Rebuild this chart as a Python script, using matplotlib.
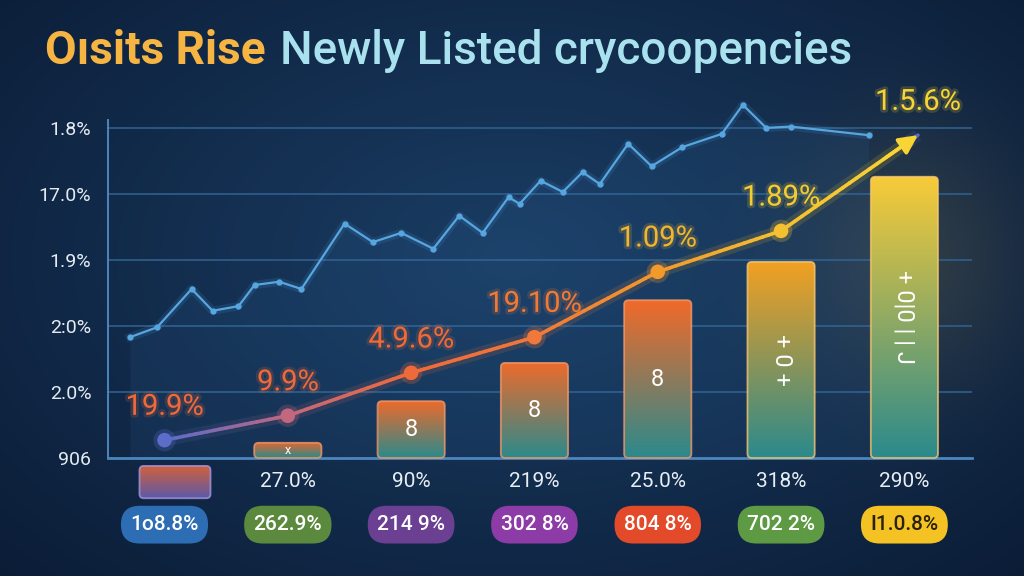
import numpy as np
import matplotlib.pyplot as plt
from matplotlib.colors import LinearSegmentedColormap, to_rgb
from matplotlib.collections import LineCollection
from matplotlib.patches import FancyBboxPatch
import matplotlib.patheffects as pe

plt.rcParams['font.family'] = ['Roboto', 'DejaVu Sans']

# ---- data ----
ytick_labels = ['906', '2.0%', '2:0%', '1.9%', '17.0%', '1.8%']
x_labels = ['', '27.0%', '90%', '219%', '25.0%', '318%', '290%']
bar_values = [0, 0.23, 0.86, 1.44, 2.39, 2.97, 4.26]
bar_marks = ['', 'x', '8', '8', '8', '+ 0 +', '+ 0|0 | | J']
line_values = [0.27, 0.64, 1.29, 1.83, 2.82, 3.44]
arrow_value = 4.89
point_labels = ['19.9%', '9.9%', '4.9.6%', '19.10%', '1.09%', '1.89%', '1.5.6%']
pill_labels = ['1o8.8%', '262.9%', '214 9%', '302 8%', '804 8%', '702 2%', 'I1.0.8%']
pill_colors = ['#2d6db3', '#5b8a3e', '#6b3f92', '#8d3ba6', '#e24a2a', '#5d9a43', '#f5c224']
trend_x = [-0.28, -0.06, 0.22, 0.39, 0.60, 0.73, 0.93, 1.11, 1.46, 1.69, 1.92, 2.18,
           2.39, 2.58, 2.79, 2.88, 3.05, 3.23, 3.39, 3.53, 3.76, 3.95, 4.20, 4.52,
           4.69, 4.88, 5.08, 5.71]
trend_y = [1.83, 1.98, 2.56, 2.23, 2.30, 2.62, 2.67, 2.56, 3.55, 3.27, 3.41, 3.17,
           3.67, 3.41, 3.95, 3.85, 4.20, 4.03, 4.33, 4.15, 4.76, 4.42, 4.71, 4.91,
           5.35, 5.00, 5.02, 4.89]

bar_tops = ['#d9663c', '#e4662e', '#ec6a2c', '#ee6b2b', '#f06a2a', '#f2a022', '#f8cb38']
bar_bottom = '#2b8a8c'
line_cmap = LinearSegmentedColormap.from_list('ln', [
    (0.0, '#5b6cc9'), (0.17, '#c4687c'), (0.33, '#ee6a3a'), (0.5, '#f0783a'),
    (0.67, '#f29a2c'), (0.83, '#f5c030'), (1.0, '#f8d434')])

fig = plt.figure(figsize=(10.24, 5.76), dpi=100)

# background
bg = fig.add_axes([0, 0, 1, 1])
H, W = 576, 1024
yy, xx = np.mgrid[0:1:H * 1j, 0:1:W * 1j]
t = np.clip(np.sqrt(((xx - 0.5) / 0.75) ** 2 + ((yy - 0.45) / 0.85) ** 2), 0, 1)
c0, c1 = np.array(to_rgb('#1a3d64')), np.array(to_rgb('#0a1a33'))
img = c0 * (1 - t[..., None]) + c1 * t[..., None]
glow = np.exp(-((xx - 0.89) ** 2 / 0.012 + (yy - 0.45) ** 2 / 0.05)) * 0.16
img = img * (1 - glow[..., None]) + np.array(to_rgb('#c89a38')) * glow[..., None]
bg.imshow(img, extent=[0, 1, 0, 1], aspect='auto')
bg.axis('off')

fig.text(45 / 1024, 1 - 64 / 576, 'Oısits Rise', fontsize=33, color='#f6b443',
         fontweight='bold', va='baseline')
fig.text(280 / 1024, 1 - 64 / 576, 'Newly Listed crycoopencies', fontsize=33,
         color='#a9e2ee', fontweight='medium', va='baseline')

ax = fig.add_axes([0.1055, 0.2049, 0.8438, 0.5868])
ax.patch.set_alpha(0)
ax.set_xlim(-0.458, 6.549)
ax.set_ylim(0, 5.12)
for s in ['top', 'right']:
    ax.spines[s].set_visible(False)
ax.spines['left'].set_color('#4d86bd')
ax.spines['left'].set_linewidth(1.4)
ax.spines['bottom'].set_color('#4d86bd')
ax.spines['bottom'].set_linewidth(2)
ax.set_xticks([])
ax.set_yticks(range(len(ytick_labels)))
ax.set_yticklabels(ytick_labels, color='#e4ebf2', fontsize=14)
ax.tick_params(axis='y', length=0, pad=12)
for yv in range(1, len(ytick_labels)):
    ax.axhline(yv, color='#2f5f8c', lw=1.2, zorder=1)

# background trend line
ax.fill_between(trend_x, trend_y, 0, color='#3a7ab8', alpha=0.10, lw=0, zorder=1)
ax.plot(trend_x, trend_y, color='#4a9ad8', lw=6, alpha=0.15, zorder=2, clip_on=False)
ax.plot(trend_x, trend_y, color='#58a6e0', lw=1.6, marker='o', ms=3.5,
        zorder=2, clip_on=False)

aspect = 123.3 / 66


def grad_box(x0, y0, w, h, top, bottom, edge):
    patch = FancyBboxPatch((x0, y0), w, h, boxstyle='round,pad=0,rounding_size=0.035',
                           mutation_aspect=aspect, fc='none', ec=edge, lw=1.3,
                           alpha=0.8, zorder=4, clip_on=False)
    ax.add_patch(patch)
    g = np.linspace(0, 1, 100)[:, None]
    ct, cb = np.array(to_rgb(top)), np.array(to_rgb(bottom))
    arr = ct * (1 - g[..., None]) + cb * g[..., None]
    arr = np.repeat(arr, 2, axis=1)
    im = ax.imshow(arr, extent=[x0, x0 + w, y0, y0 + h], aspect='auto',
                   zorder=3, origin='upper')
    im.set_clip_path(patch)
    im.set_clip_box(fig.bbox)


bw = 0.545
for i, (v, top) in enumerate(zip(bar_values, bar_tops)):
    if v <= 0:
        continue
    edge = '#f7c870' if i >= 5 else '#f39a6a'
    grad_box(i - bw / 2, 0, bw, v, top, bar_bottom, edge)
    mark = bar_marks[i]
    if mark:
        rot = 270 if len(mark) > 1 else 0
        fs = 9 if mark == 'x' else 17
        ax.text(i, v * 0.5, mark, rotation=rot, ha='center', va='center',
                color='white', fontsize=fs, zorder=5)

# small box below axis at first category
grad_box(0.085 - 0.288, -0.61, 0.576, 0.49, '#d4603a', '#5c5aa8', '#a898e0')

ax.set_xlim(-0.458, 6.549)
ax.set_ylim(0, 5.12)

# gradient line
px = list(range(len(line_values))) + [len(line_values) - 1 + 1.11]
py = line_values + [arrow_value]
segs, cols = [], []
for j in range(len(px) - 1):
    xs = np.linspace(px[j], px[j + 1], 21)
    ys = np.linspace(py[j], py[j + 1], 21)
    for k in range(20):
        segs.append([(xs[k], ys[k]), (xs[k + 1], ys[k + 1])])
        cols.append(line_cmap(min(xs[k] / 6.0, 1)))
ax.add_collection(LineCollection(segs, colors=cols, linewidths=9, alpha=0.15,
                                 zorder=6, clip_on=False))
ax.add_collection(LineCollection(segs, colors=cols, linewidths=2.6, zorder=7,
                                 clip_on=False, capstyle='round'))
ax.annotate('', xy=(px[-1], py[-1]), xytext=(px[-2] + 0.85, py[-2] + 0.85 * (py[-1] - py[-2]) / 1.11),
            arrowprops=dict(arrowstyle='-|>', color='#f8d434', lw=2.6,
                            mutation_scale=28, shrinkA=0, shrinkB=0),
            zorder=8, annotation_clip=False)

mcols = [line_cmap(x / 6.0) for x in px[:-1]]
ax.scatter(px[:-1], py[:-1], s=260, c=mcols, alpha=0.25, zorder=8, lw=0, clip_on=False)
ax.scatter(px[:-1], py[:-1], s=110, c=mcols, zorder=9, lw=0, clip_on=False)

label_cols = ['#f0693a', '#f06a38', '#f06a36', '#f07a35', '#f2b52e', '#f5cc30', '#f8d434']
for j, (x, y, lab, c) in enumerate(zip(px, py, point_labels, label_cols)):
    ax.annotate(lab, (x, y), xytext=(0, 24), textcoords='offset points',
                ha='center', va='center', fontsize=21, color=c, zorder=10,
                annotation_clip=False,
                path_effects=[pe.withStroke(linewidth=4, foreground=c, alpha=0.18)])

# x labels below axis and pills
for i, lab in enumerate(x_labels):
    if lab:
        ax.text(i, -0.35, lab, ha='center', va='center', color='#e8eef4',
                fontsize=15, clip_on=False)
for i, (lab, c) in enumerate(zip(pill_labels, pill_colors)):
    tc = '#2a2208' if i == len(pill_labels) - 1 else 'white'
    ax.text(i, -1.01, lab, ha='center', va='center', color=tc, fontsize=15,
            fontweight='medium', clip_on=False,
            bbox=dict(boxstyle='round,pad=0.45,rounding_size=0.9', fc=c, ec='none'))

fig.savefig('out.png', dpi=100)
